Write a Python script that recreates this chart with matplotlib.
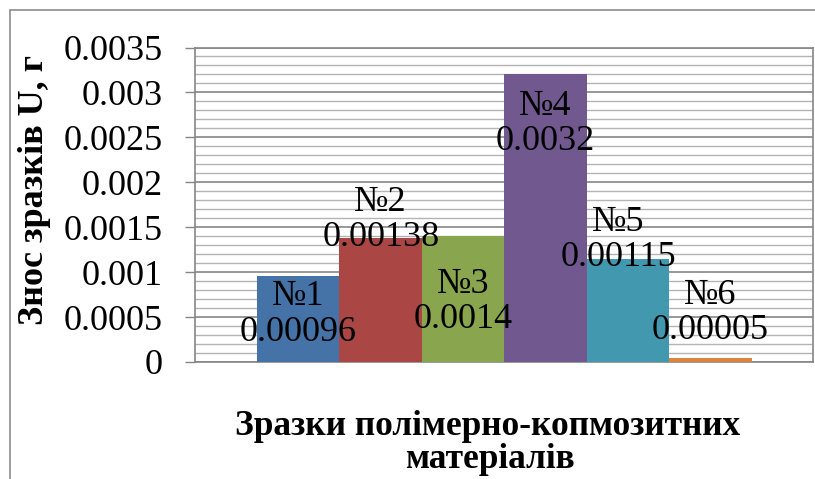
import matplotlib.pyplot as plt
import matplotlib.patches as mpatches
from matplotlib.ticker import MultipleLocator

# wear of polymer-composite samples
samples = ['№1', '№2', '№3', '№4', '№5', '№6']
wear = [0.00096, 0.00138, 0.0014, 0.0032, 0.00115, 0.00005]
value_text = ['0.00096', '0.00138', '0.0014', '0.0032', '0.00115', '0.00005']
y_ticks = [0, 0.0005, 0.001, 0.0015, 0.002, 0.0025, 0.003, 0.0035]
y_tick_text = ['0', '0.0005', '0.001', '0.0015', '0.002', '0.0025', '0.003', '0.0035']

colors = ['#4572A7', '#AA4643', '#89A54E', '#71588F', '#4198AF', '#DB843D']
# where each data label sits (bar centre offset, height in data units)
label_dx = [0, 0, 0, 0, -0.12, 0]
label_y = [0.000528, 0.00158, 0.000667, 0.00265, 0.001356, 0.000544]

plt.rcParams['font.family'] = ['Liberation Serif', 'DejaVu Serif']

W, H = 815, 479
fig = plt.figure(figsize=(W / 100, H / 100), dpi=100)

# chart area frame (only top and left edges fall inside the image)
fig.add_artist(mpatches.Rectangle((9.5 / W, -0.1), 1.2, 1.1 - 9.5 / H,
                                  transform=fig.transFigure, fill=False,
                                  edgecolor='#8c8c8c', lw=1.2))

left, right, top, bottom = 195, 813, 47.5, 362
ax = fig.add_axes([left / W, 1 - bottom / H, (right - left) / W, (bottom - top) / H])

x = list(range(len(samples)))
ax.bar(x, wear, width=1.0, color=colors, zorder=3)

for i in x:
    ax.text(i + label_dx[i], label_y[i], samples[i] + '\n' + value_text[i],
            ha='center', va='center', fontsize=26, linespacing=1.1,
            zorder=4)

ax.set_xlim(-1.252, 6.243)
ax.set_ylim(0, 0.0035)
ax.set_yticks(y_ticks)
ax.set_yticklabels(y_tick_text, fontsize=26)
ax.yaxis.set_minor_locator(MultipleLocator(0.0001))
ax.set_xticks([])

ax.grid(axis='y', which='major', color='#868686', lw=1.2, zorder=0)
ax.grid(axis='y', which='minor', color='#b4b4b4', lw=1.0, zorder=0)
ax.tick_params(axis='y', which='major', length=7, width=1, color='#868686', pad=16)
ax.tick_params(axis='y', which='minor', length=0)
for s in ax.spines.values():
    s.set_color('#868686')
    s.set_linewidth(1.2)

fig.text(35 / W, 1 - 190 / H, 'Знос зразків U, г', rotation=90,
         ha='center', va='center', fontsize=26, fontweight='bold')

# axis title, two lines
fig.text(488 / W, 1 - 435 / H, 'Зразки полімерно-копмозитних',
         ha='center', va='baseline', fontsize=25.5, fontweight='bold')
fig.text(490 / W, 1 - 468 / H, 'матеріалів',
         ha='center', va='baseline', fontsize=25.5, fontweight='bold')

fig.savefig('out.png', dpi=100)
